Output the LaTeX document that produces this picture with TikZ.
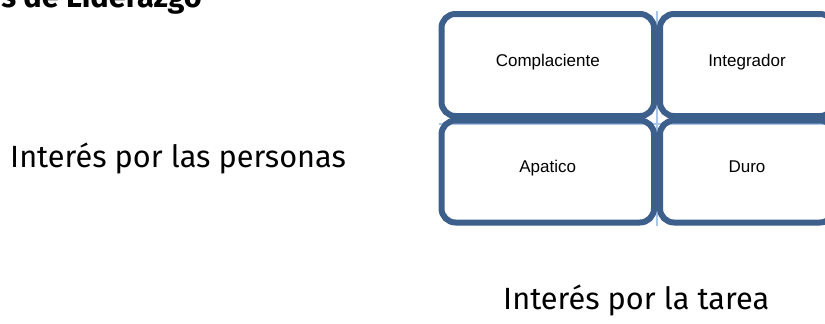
\documentclass[tikz,border=0pt]{standalone}
\usepackage{fontspec}
\setmainfont{Fira Sans}
\newfontfamily\boxfont{Liberation Sans}
\usepackage{xcolor}
\usetikzlibrary{positioning, backgrounds}

\definecolor{boxblue}{HTML}{3C5F8C}
\definecolor{axisblue}{HTML}{A9C6E6}

\begin{document}
\begin{tikzpicture}[
    x=1pt, y=-1pt,
    quadrant/.style={
        rectangle,
        draw=boxblue,
        line width=6pt,
        rounded corners=14pt,
        minimum height=102pt,
        text height=2pt,
        text depth=0pt,
        font=\boxfont\fontsize{17}{20}\selectfont
    },
    wide/.style={quadrant, minimum width=212.5pt},
    narrow/.style={quadrant, minimum width=174pt},
    axis/.style={draw=axisblue, line width=2pt},
    caption/.style={inner sep=0pt, font=\fontsize{30.7}{37}\selectfont},
    node distance=0pt
]
\useasboundingbox (0,0) rectangle (825,324);

\node[wide] (compl) at (547.75,65) {Complaciente};

\node[narrow, right=0pt of compl] (integ) {Integrador};

\node[wide, below=-1.5pt of compl] (apat) {Apatico};

\node[narrow, below=-1.5pt of integ] (duro) {Duro};

% ejes de la matriz
\begin{scope}[on background layer]
\draw[axis] (compl.north east) -- (apat.south east);
\draw[axis] ([yshift=-6pt]apat.north west) -- ([yshift=-6pt]duro.north east);
\end{scope}

\node[caption, anchor=base west] (people) at (10,167) {Interés por las personas};
\node[caption, anchor=base west] (task) at (503,309) {Interés por la tarea};
\node[caption, font=\bfseries\fontsize{30.7}{37}\selectfont, anchor=base east] (title) at (202,8) {s de Liderazgo};

\end{tikzpicture}
\end{document}
